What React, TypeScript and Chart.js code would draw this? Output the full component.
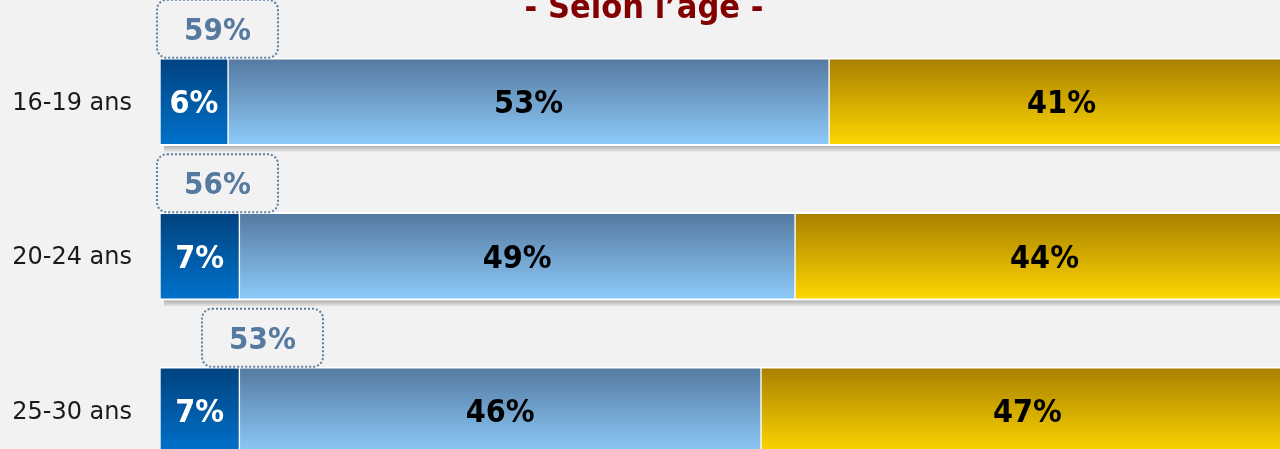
import React, { useEffect, useRef } from "react";
import { Chart, registerables } from "chart.js";

Chart.register(...registerables);

const categories = ["16-19 ans", "20-24 ans", "25-30 ans"];
const seriesDark = [6, 7, 7];
const seriesLight = [53, 49, 46];
const seriesGold = [41, 44, 47];
const totals = [59, 56, 53];
const titleText = "- Selon l’âge -";

const BAR = 88;
const FONT_COND = "'DejaVu Sans Condensed', 'DejaVu Sans', sans-serif";

const gradients: [string, string][] = [
  ["#00427e", "#0072cc"],
  ["#54799f", "#8ecbfa"],
  ["#a77f00", "#ffd700"],
];

const boxShift = [0, 0, 45];

const decorPlugin = {
  id: "decor",
  beforeDatasetsDraw(chart: any) {
    const ctx = chart.ctx;
    const area = chart.chartArea;
    chart.data.datasets.forEach((_ds: any, di: number) => {
      const meta = chart.getDatasetMeta(di);
      meta.data.forEach((el: any) => {
        const top = el.y - el.height / 2;
        const bottom = el.y + el.height / 2;
        if (!isFinite(top) || !isFinite(bottom)) return;
        const g = ctx.createLinearGradient(0, top, 0, bottom);
        g.addColorStop(0, gradients[di][0]);
        g.addColorStop(1, gradients[di][1]);
        el.options = Object.assign(Object.create(Object.getPrototypeOf(el.options)), el.options, { backgroundColor: g });
      });
    });
    const last = chart.getDatasetMeta(chart.data.datasets.length - 1);
    ctx.save();
    last.data.forEach((el: any) => {
      const bottom = el.y + el.height / 2;
      if (!isFinite(bottom)) return;
      const g = ctx.createLinearGradient(0, bottom, 0, bottom + 6);
      g.addColorStop(0, "#adadad");
      g.addColorStop(1, "#e6e6e6");
      ctx.fillStyle = g;
      ctx.fillRect(area.left + 4, bottom, el.x - area.left, 6);
    });
    ctx.restore();
  },
  afterDatasetsDraw(chart: any) {
    const ctx = chart.ctx;
    ctx.save();
    ctx.textAlign = "center";
    ctx.textBaseline = "middle";
    chart.data.datasets.forEach((ds: any, di: number) => {
      const meta = chart.getDatasetMeta(di);
      meta.data.forEach((el: any, i: number) => {
        const x = (el.x + el.base) / 2;
        ctx.font = `bold 32px ${FONT_COND}`;
        ctx.fillStyle = di === 0 ? "#ffffff" : "#000000";
        ctx.fillText(`${ds.data[i]}%`, x, el.y + 3);
      });
    });
    ctx.restore();
  },
  afterDraw(chart: any) {
    const ctx = chart.ctx;
    const area = chart.chartArea;
    const first = chart.getDatasetMeta(0);
    ctx.save();
    first.data.forEach((el: any, i: number) => {
      const top = el.y - el.height / 2;
      const w = 121;
      const h = 58;
      const left = area.left - 3 + boxShift[i];
      const bTop = top - h;
      ctx.beginPath();
      ctx.setLineDash([2, 2]);
      ctx.lineWidth = 2;
      ctx.strokeStyle = "#5c7ea3";
      (ctx as any).roundRect(left, bTop, w, h, 10);
      ctx.stroke();
      ctx.setLineDash([]);
      ctx.font = `bold 31px ${FONT_COND}`;
      ctx.fillStyle = "#55799f";
      ctx.textAlign = "center";
      ctx.textBaseline = "middle";
      ctx.fillText(`${totals[i]}%`, left + w / 2, bTop + h / 2 + 3);
    });
    ctx.font = `bold 34px ${FONT_COND}`;
    ctx.fillStyle = "#830000";
    ctx.textAlign = "center";
    ctx.textBaseline = "alphabetic";
    ctx.fillText(titleText, 644, 18);
    ctx.restore();
  },
};

export default function App() {
  const ref = useRef<HTMLCanvasElement | null>(null);

  useEffect(() => {
    document.body.style.margin = "0";
    document.body.style.background = "#f2f2f2";
    if (!ref.current) return;
    const common = {
      barThickness: BAR,
      borderColor: "#ffffff",
      borderWidth: { top: 2, bottom: 2, left: 1, right: 1 },
      borderSkipped: false as const,
    };
    const chart = new Chart(ref.current, {
      type: "bar",
      data: {
        labels: categories,
        datasets: [
          { label: "a", data: seriesDark, backgroundColor: () => gradients[0][1], ...common },
          { label: "b", data: seriesLight, backgroundColor: () => gradients[1][1], ...common },
          { label: "c", data: seriesGold, backgroundColor: () => gradients[2][1], ...common },
        ],
      },
      options: {
        indexAxis: "y",
        responsive: true,
        maintainAspectRatio: false,
        animation: false,
        devicePixelRatio: 1,
        layout: { padding: { top: 24.5, bottom: 2, left: 0, right: 6 } },
        plugins: {
          legend: { display: false },
          title: { display: false },
          tooltip: { enabled: false },
        },
        scales: {
          x: { stacked: true, min: 0, max: 100, display: false },
          y: {
            stacked: true,
            grid: { display: false, drawTicks: false },
            border: { display: false },
            ticks: {
              padding: 28,
              labelOffset: 2,
              color: "#1a1a1a",
              font: { family: "'DejaVu Sans', sans-serif", size: 24 },
            },
            afterFit: (scale: any) => {
              scale.width = 160;
              scale.paddingTop = 0;
              scale.paddingBottom = 0;
            },
          },
        },
      },
      plugins: [decorPlugin],
    } as any);
    return () => chart.destroy();
  }, []);

  return (
    <div
      style={{
        position: "fixed",
        left: 0,
        top: 0,
        width: 1280,
        height: 449,
        overflow: "hidden",
        background: "#f2f2f2",
      }}
    >
      <div style={{ position: "relative", width: 1300, height: 490 }}>
        <canvas ref={ref} />
      </div>
    </div>
  );
}
